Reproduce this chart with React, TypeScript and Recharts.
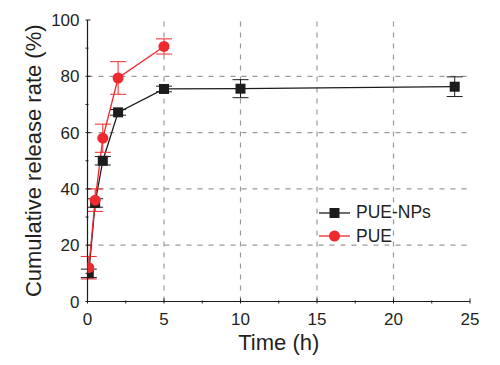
import React from 'react';
import { LineChart, Line, XAxis, YAxis, ErrorBar, ReferenceLine } from 'recharts';

const times = [0.083, 0.5, 1, 2, 5, 10, 24];
const npValues = [10, 35, 50, 67.2, 75.5, 75.6, 76.3];
const npErrors = [1.5, 1.5, 1.5, 1, 1, 3.2, 3.5];
const pueTimes = [0.083, 0.5, 1, 2, 5];
const pueValues = [12, 36, 58, 79.4, 90.6];
const pueErrors = [4, 4, 5, 5.8, 2.7];

const xMajor = [0, 5, 10, 15, 20, 25];
const xMinor = [2.5, 7.5, 12.5, 17.5, 22.5];
const yMajor = [0, 20, 40, 60, 80, 100];
const yMinor = [10, 30, 50, 70, 90];

const npData = times.map((t, i) => ({ x: t, y: npValues[i], err: npErrors[i] }));
const pueData = pueTimes.map((t, i) => ({ x: t, y: pueValues[i], err: pueErrors[i] }));

const FONT = '"Liberation Sans", Arial, sans-serif';
const TEXT = '#231f20';
const BLACK = '#1c1c1c';
const RED = '#ee2a2f';
const GRID = '#9a9a9a';

const xTicks = [...xMajor, ...xMinor].sort((a, b) => a - b);
const yTicks = [...yMajor, ...yMinor].sort((a, b) => a - b);

// ticks point inward; labels only on the bottom/left axes
const makeTick = (side: 'bottom' | 'left' | 'top' | 'right', majors: number[]) => (props: any) => {
  const { x, y, payload } = props;
  const v = payload.value;
  const major = majors.includes(v);
  const len = major ? 5 : 3;
  if (side === 'bottom') {
    return (
      <g>
        <line x1={x} x2={x} y1={y} y2={y - len} stroke={BLACK} strokeWidth={1} />
        {major && (
          <text x={x} y={y + 21} textAnchor="middle" fontSize={17} fill={TEXT} fontFamily={FONT}>{v}</text>
        )}
      </g>
    );
  }
  if (side === 'top') {
    return <line x1={x} x2={x} y1={y} y2={y + len} stroke={BLACK} strokeWidth={1} />;
  }
  if (side === 'left') {
    return (
      <g>
        <line x1={x} x2={x + len} y1={y} y2={y} stroke={BLACK} strokeWidth={1} />
        {major && (
          <text x={x - 6} y={y + 6} textAnchor="end" fontSize={17} fill={TEXT} fontFamily={FONT}>{v}</text>
        )}
      </g>
    );
  }
  return <line x1={x} x2={x - len} y1={y} y2={y} stroke={BLACK} strokeWidth={1} />;
};

const Square = (props: any) => {
  const { cx, cy } = props;
  if (cx == null || cy == null) return null;
  return <rect x={cx - 5} y={cy - 5} width={10} height={10} fill={BLACK} />;
};

const Circle = (props: any) => {
  const { cx, cy } = props;
  if (cx == null || cy == null) return null;
  return <circle cx={cx} cy={cy} r={5.5} fill={RED} />;
};

const legendItems = [
  { name: 'PUE-NPs', color: BLACK, shape: 'square' },
  { name: 'PUE', color: RED, shape: 'circle' },
];

const ChartLegend = () => (
  <div style={{ position: 'absolute', left: 319, top: 201, fontFamily: FONT, fontSize: 17.5, color: TEXT }}>
    {legendItems.map((e) => (
      <div key={e.name} style={{ display: 'flex', alignItems: 'center', height: 23.5 }}>
        <svg width={31} height={14}>
          <line x1={0} x2={31} y1={7} y2={7} stroke={e.color} strokeWidth={1.3} />
          {e.shape === 'square' ? (
            <rect x={10.5} y={2} width={10} height={10} fill={e.color} />
          ) : (
            <circle cx={15.5} cy={7} r={5.5} fill={e.color} />
          )}
        </svg>
        <span style={{ marginLeft: 6 }}>{e.name}</span>
      </div>
    ))}
  </div>
);

export default function App() {
  return (
    <div style={{ position: 'absolute', left: 0, top: 0, width: 500, height: 365, background: '#fff' }}>
      <LineChart width={500} height={365} margin={{ top: 20, right: 30, left: 0, bottom: 0 }}>
        {[5, 10, 15, 20].map((v) => (
          <ReferenceLine key={'gx' + v} x={v} stroke={GRID} strokeDasharray="5 6" strokeWidth={1.2} />
        ))}
        {[20, 40, 60, 80].map((v) => (
          <ReferenceLine key={'gy' + v} y={v} stroke={GRID} strokeDasharray="5 6" strokeWidth={1.2} />
        ))}
        <XAxis
          dataKey="x"
          type="number"
          domain={[0, 25]}
          ticks={xTicks}
          interval={0}
          tickSize={0}
          height={63.5}
          axisLine={{ stroke: BLACK, strokeWidth: 1.2 }}
          tick={makeTick('bottom', xMajor)}
          allowDataOverflow
          label={{ value: 'Time (h)', position: 'insideBottom', offset: 15, fontSize: 22, fill: TEXT, fontFamily: FONT }}
        />
        <XAxis
          xAxisId="top"
          orientation="top"
          type="number"
          domain={[0, 25]}
          ticks={xTicks}
          interval={0}
          tickSize={0}
          height={0}
          axisLine={{ stroke: BLACK, strokeWidth: 1.2 }}
          tick={makeTick('top', xMajor)}
        />
        <YAxis
          type="number"
          domain={[0, 100]}
          ticks={yTicks}
          interval={0}
          tickSize={0}
          width={87.5}
          axisLine={{ stroke: BLACK, strokeWidth: 1.2 }}
          tick={makeTick('left', yMajor)}
          label={{
            value: 'Cumulative release rate (%)',
            angle: -90,
            position: 'center',
            dx: -11,
            fontSize: 22,
            fill: TEXT,
            fontFamily: FONT,
          }}
        />
        <YAxis
          yAxisId="right"
          orientation="right"
          type="number"
          domain={[0, 100]}
          ticks={yTicks}
          interval={0}
          tickSize={0}
          width={0}
          axisLine={{ stroke: BLACK, strokeWidth: 1.2 }}
          tick={makeTick('right', yMajor)}
        />
        <Line
          data={npData}
          dataKey="y"
          name="PUE-NPs"
          stroke={BLACK}
          strokeWidth={1.3}
          dot={<Square />}
          activeDot={false}
          isAnimationActive={false}
        >
          <ErrorBar dataKey="err" direction="y" width={8} stroke={BLACK} strokeWidth={1} />
        </Line>
        <Line
          data={pueData}
          dataKey="y"
          name="PUE"
          stroke={RED}
          strokeWidth={1.3}
          dot={<Circle />}
          activeDot={false}
          isAnimationActive={false}
        >
          <ErrorBar dataKey="err" direction="y" width={8} stroke={RED} strokeWidth={1} />
        </Line>
      </LineChart>
      <ChartLegend />
    </div>
  );
}
